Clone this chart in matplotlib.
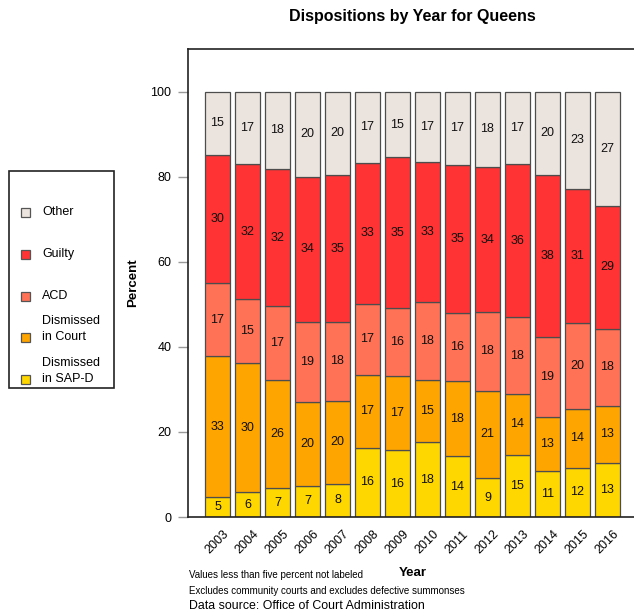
import matplotlib
matplotlib.use("Agg")
import matplotlib.pyplot as plt
from matplotlib.patches import Rectangle
import numpy as np

plt.rcParams['font.family'] = ['Liberation Sans', 'DejaVu Sans']

years = ["2003", "2004", "2005", "2006", "2007", "2008", "2009",
         "2010", "2011", "2012", "2013", "2014", "2015", "2016"]
sap_d = [4.6, 5.8, 6.7, 7.3, 7.8, 16.3, 15.7, 17.6, 14.3, 9.1, 14.6, 10.8, 11.6, 12.7]
court = [33.2, 30.4, 25.6, 19.8, 19.5, 17.1, 17.4, 14.6, 17.6, 20.6, 14.3, 12.7, 13.8, 13.4]
acd = [17.2, 15.1, 17.2, 18.7, 18.5, 16.7, 16.0, 18.3, 16.1, 18.4, 18.1, 18.7, 20.3, 18.1]
guilty = [30.0, 31.6, 32.2, 34.2, 34.6, 33.2, 35.4, 32.9, 34.7, 34.2, 35.9, 38.1, 31.3, 28.9]
other = [15.0, 17.1, 18.3, 20.0, 19.6, 16.7, 15.4, 16.6, 17.3, 17.7, 17.1, 19.7, 23.0, 26.9]

series_names = ["Dismissed\nin SAP-D", "Dismissed\nin Court", "ACD", "Guilty", "Other"]
series_vals = [sap_d, court, acd, guilty, other]
colors = ["#FFD700", "#FFA500", "#FF7256", "#FF3333", "#EBE3DE"]

W, H = 634, 616
fig = plt.figure(figsize=(W / 100, H / 100), dpi=100)

ax_left, ax_right, ax_top, ax_bot = 188, 640, 49, 517
ax = fig.add_axes([ax_left / W, (H - ax_bot) / H, (ax_right - ax_left) / W, (ax_bot - ax_top) / H])

x = np.arange(len(years))
bottom = np.zeros(len(years))
for vals, col in zip(series_vals, colors):
    v = np.array(vals)
    ax.bar(x, v, width=0.833, bottom=bottom, color=col, edgecolor="#4d4d4d", linewidth=0.9, zorder=2)
    for xi, b, h in zip(x, bottom, v):
        if round(h) >= 5:
            ax.text(xi, b + h / 2, f"{int(round(h))}", ha="center", va="center", fontsize=9, color="#111111", zorder=3)
    bottom += v

ax.set_xlim(-0.983, (ax_right - 217.5) / 30.0)
ax.set_ylim(0, 110)
ax.set_yticks([0, 20, 40, 60, 80, 100])
ax.set_yticklabels(["0", "20", "40", "60", "80", "100"], fontsize=9)
ax.tick_params(axis="y", length=7, width=1, color="#999999", pad=5, direction="out")
ax.set_xticks([])
for s in ["left", "top", "bottom"]:
    ax.spines[s].set_linewidth(1.2)
    ax.spines[s].set_color("#222222")
ax.spines["right"].set_visible(False)

for xi, yr in zip(x, years):
    ax.text(xi + 0.17, -2.6, yr, rotation=45, ha="right", va="top", rotation_mode="anchor",
            fontsize=9, clip_on=False)

fig.text(412 / W, 1 - 17 / H, "Dispositions by Year for Queens", ha="center", va="center",
         fontsize=11.5, fontweight="bold")
fig.text(133 / W, 1 - 283 / H, "Percent", rotation=90, ha="center", va="center",
         fontsize=9.5, fontweight="bold")
fig.text(413 / W, 1 - 573 / H, "Year", ha="center", va="center", fontsize=9.5, fontweight="bold")
fig.text(189 / W, 1 - 575 / H, "Values less than five percent not labeled", ha="left", va="center", fontsize=7)
fig.text(189 / W, 1 - 591 / H, "Excludes community courts and excludes defective summonses", ha="left", va="center", fontsize=7)
fig.text(189 / W, 1 - 606 / H, "Data source: Office of Court Administration", ha="left", va="center", fontsize=8.9)

# legend box
lx0, lx1, ly0, ly1 = 9, 114, 171, 388
fig.patches.append(Rectangle((lx0 / W, 1 - ly1 / H), (lx1 - lx0) / W, (ly1 - ly0) / H,
                             transform=fig.transFigure, fill=False, edgecolor="#222222", linewidth=1.2))
leg_y = [212, 254, 296, 337, 379]
leg_order = [4, 3, 2, 1, 0]
for yy, idx in zip(leg_y, leg_order):
    sq = 9
    fig.patches.append(Rectangle(((25 - sq / 2) / W, 1 - (yy + sq / 2) / H), sq / W, sq / H,
                                 transform=fig.transFigure, facecolor=colors[idx],
                                 edgecolor="#555555", linewidth=0.9))
    name = series_names[idx]
    lines = name.split("\n")
    if len(lines) == 1:
        fig.text(42 / W, 1 - yy / H, lines[0], ha="left", va="center", fontsize=9)
    else:
        fig.text(42 / W, 1 - (yy - 16) / H, lines[0], ha="left", va="center", fontsize=9)
        fig.text(42 / W, 1 - yy / H, lines[1], ha="left", va="center", fontsize=9)

fig.savefig("out.png", dpi=100)
